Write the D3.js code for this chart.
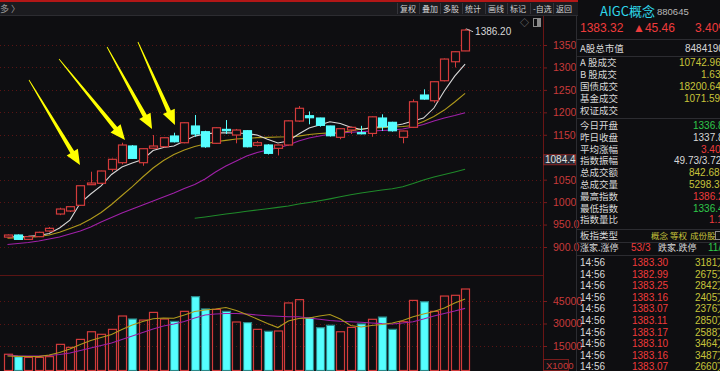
<!DOCTYPE html>
<html><head><meta charset="utf-8">
<script src="https://cdn.jsdelivr.net/npm/d3@7"></script>
<style>
html,body{margin:0;padding:0;background:#0e0e11;overflow:hidden}
svg{display:block;font-family:"Liberation Sans","Noto Sans CJK SC",sans-serif}
</style></head><body>
<svg id="chart" width="720" height="371"></svg>
<script>
// daily candles, oldest -> newest
var opens  = [922,926.7,917,923,935.6,973.5,980.2,992.9,1038.8,1041.9,1073,1087.8,1125,1087.8,1120,1123.4,1147.2,1132.3,1169.5,1156.8,1131,1162,1149.4,1159,1126.5,1127.2,1119.8,1127.2,1180.6,1192.4,1187.3,1169.5,1144.3,1160.6,1154.6,1153,1187.3,1177.7,1144.3,1166.6,1238.5,1225.8,1270.4,1312.7,1336.8];
var closes = [926.7,917,923,932.7,941.6,984.6,989.8,1036.5,1042.5,1069.3,1095.3,1127.2,1097.5,1119,1125,1143.4,1134.5,1176.8,1151.7,1123.4,1165.7,1159,1160.6,1123.4,1132.3,1108.7,1127.2,1181,1209,1188,1171,1147.9,1163.5,1166.6,1152.3,1190,1168,1159,1158.4,1223.6,1229.6,1268.2,1318.7,1335,1383.32];
var highs  = [928,928,924,934,944.5,987.5,991,1037,1067.7,1070,1097,1132.3,1127,1120,1149.4,1144,1154.6,1178,1194,1159,1167,1182.8,1163,1160,1136,1129,1128,1182,1214,1202,1188,1170,1165,1167,1170,1191,1195.6,1179,1159,1228.9,1251.2,1269,1320,1336,1386.2];
var lows   = [920,916,916,922,934,971,978,992,1038,1041,1068,1084,1096,1081,1119,1122,1133,1131,1145.6,1121,1130,1151.7,1131,1122,1124,1106,1104,1126,1179,1173.3,1168,1146,1140,1151.7,1151,1145.6,1158.4,1157,1131,1165,1228,1221.3,1269,1300,1336.4];
var volumes = [9500,7900,7400,7400,7900,16100,14100,19400,24500,22800,26100,35000,33000,32300,37400,33000,31400,38100,47900,39700,39400,38100,31000,30600,26100,24800,25000,43700,45900,33900,27200,28800,24500,27400,29700,32800,34300,26100,31200,45400,44500,38100,48300,48800,53000];

// moving averages as shown on the chart
var ma5  = [922.9,923,924,925.6,930,942.3,960,998,1018,1036,1061.5,1078,1087,1095,1115,1121.6,1125,1136,1147,1151.7,1154.3,1154.6,1154,1152.8,1149.4,1140,1131.6,1136,1151.7,1165,1171.7,1179,1175,1167,1161.7,1166,1168,1169.5,1174,1180.6,1187.3,1209.6,1247.4,1280.8,1307.6];
var ma10 = [919.8,920.5,921.4,923.4,926.7,932.7,941.2,950,962.4,976.8,994.7,1014.7,1034.5,1056,1076,1092.6,1106,1116,1124,1129.4,1134.3,1137.6,1140.5,1142,1143.7,1144.3,1145,1145.7,1147,1150.6,1152.8,1154.3,1155,1158.4,1162.8,1165,1166,1167.3,1168.4,1170.6,1179.5,1190.6,1205,1223,1242.3];
var ma20 = [905.6,907.8,910,913.4,917.8,922.3,929,935.6,944.5,955.7,965.7,975.7,984.6,993.5,1002.4,1011.4,1020.3,1030.3,1039.2,1051.4,1067,1080.4,1091.5,1102.7,1110.5,1116,1120.5,1127.2,1136,1142.8,1147.2,1151.7,1154,1155.5,1156.8,1158.4,1159.5,1160.6,1162.8,1167.3,1172.8,1180.6,1187.3,1192.9,1199.1];
var ma60 = [null,null,null,null,null,null,null,null,null,null,null,null,null,null,null,null,null,null,963.9,966.8,970.2,973.5,976.4,979.5,982.4,985.3,988.2,991.3,995.8,999.3,1003.1,1007.3,1011.8,1016.3,1020.3,1023.6,1027,1029.8,1034.3,1041.4,1049.2,1055.9,1061.5,1067,1073];
var volMa5  = [8300,8100,8000,7900,9000,10700,13000,16000,18700,20700,22700,26000,29000,31300,33200,33700,33500,35700,38000,39000,39700,40700,38700,36000,33000,30000,27300,31700,33300,33700,35000,36000,33000,28700,27700,28700,29300,30300,32000,34500,36300,38000,40300,43700,46300];
var volMa10 = [9000,8500,8300,8300,8700,9300,10300,12000,13700,15300,17000,19300,21700,24000,26300,28300,29700,31300,33700,35700,36300,36700,36700,36300,35700,35200,34800,34500,34500,33700,32800,32000,31500,31200,30800,30300,29900,29700,30300,31200,33000,35000,36700,38300,40100];

var priceTicks = [900,950,1000,1050,1100,1150,1200,1250,1300,1350];
var volTicks = [15000,30000,45000];
var toolButtons = ["复权","叠加","多股","统计","画线","标记","-自选","返回"];

// arrows drawn on the chart: tip at (candle index, price)
var arrows = [{i:6.97,p:1082.6,dx:-51,dy:-85},{i:11.3,p:1138.3,dx:-66,dy:-81},{i:13.9,p:1162.8,dx:-45,dy:-82},{i:16.1,p:1171.7,dx:-37,dy:-83}];

// quote panel
var quoteRows1 = [["A 股成交","10742.96亿","#c8c43a"],["B 股成交","1.63亿","#c8c43a"],["国债成交","18200.64亿","#c8c43a"],["基金成交","1071.59亿","#c8c43a"],["权证成交","",""]];
var quoteRows2 = [["今日开盘","1336.83","#2ec84a"],["昨日收盘","1337.86","#d8d8d8"],["平均涨幅","3.40%","#ee3b3b"],["指数振幅","49.73/3.72%","#d8d8d8"],["总成交额","842.68亿","#c8c43a"],["总成交量","5298.37万","#c8c43a"],["最高指数","1386.20","#ee3b3b"],["最低指数","1336.40","#2ec84a"],["指数量比","1.12","#ee3b3b"]];
var tickTimes = ["14:56","14:56","14:56","14:56","14:56","14:56","14:56","14:56","14:56","14:56"];
var tickPrices = ["1383.30","1382.99","1383.25","1383.16","1383.07","1383.11","1383.17","1383.10","1383.16","1383.07"];
var tickVols = ["3181万","2675万","2842万","2405万","2376万","2850万","2588万","3464万","3487万","2660万"];

var RED = "#d23b3b", CYAN = "#55ffff", GRID = "#5a1414";
var svg = d3.select("#chart");
svg.append("rect").attr("width",720).attr("height",371).attr("fill","#0e0e11");

var n = closes.length;
var x = d3.scaleLinear().domain([0, n-1]).range([7.5, 465.1]);
var y = d3.scaleLinear().domain([900,1350]).range([247,45]);
var yv = d3.scaleLinear().domain([0,45000]).range([368.5,301]);
var bw = 8;
var axisX = 543;

/* header strip */
svg.append("rect").attr("x",0).attr("y",0).attr("width",578).attr("height",2).attr("fill","#b31717");
svg.append("rect").attr("x",0).attr("y",2).attr("width",578).attr("height",13).attr("fill","#1b1b1f");
svg.append("line").attr("x1",0).attr("x2",578).attr("y1",15.5).attr("y2",15.5).attr("stroke","#2c2c31");
svg.append("text").attr("x",0).attr("y",12).attr("fill","#9a9a9a").attr("font-size",9).attr("font-family","Noto Sans CJK SC").text("多 〉");
var btnX = [397,419,440,462,485,507,530,553];
toolButtons.forEach(function(t, k) {
    svg.append("line").attr("x1",btnX[k]+0.5).attr("x2",btnX[k]+0.5).attr("y1",3).attr("y2",14).attr("stroke","#34343a");
    svg.append("text").attr("x",btnX[k] + 3).attr("y",11.5).attr("fill","#d0d0d0").attr("font-size",8)
        .attr("font-family","Noto Sans CJK SC").text(t);
});
svg.append("text").attr("x",520).attr("y",26).attr("fill","#8a8a8a").attr("font-size",9).text("◇");
svg.append("rect").attr("x",533.5).attr("y",18.5).attr("width",7).attr("height",8).attr("fill","none").attr("stroke","#8a8a8a");
svg.append("rect").attr("x",537).attr("y",19).attr("width",3).attr("height",7).attr("fill","#8a8a8a");

/* price gridlines + axis */
var g = svg.append("g");
g.selectAll("line.grid").data(priceTicks).enter().append("line")
    .attr("x1",0).attr("x2",axisX).attr("y1",function(d){return Math.round(y(d))+0.5}).attr("y2",function(d){return Math.round(y(d))+0.5})
    .attr("stroke",GRID).attr("stroke-dasharray","1,3");
var yAxis = d3.axisRight(y).tickValues(priceTicks).tickSize(4).tickPadding(6)
    .tickFormat(function(d){ return d < 1000 ? d3.format(".1f")(d) : d; });
var ag = svg.append("g").attr("transform","translate(" + axisX + ",0)").call(yAxis);
ag.select(".domain").remove();
ag.selectAll("line").attr("stroke","#7a1c1c");
ag.selectAll("text").attr("fill","#c83a3a").attr("font-size",10.5);
svg.append("line").attr("x1",axisX+0.5).attr("x2",axisX+0.5).attr("y1",16).attr("y2",371).attr("stroke","#6a1515");
svg.append("line").attr("x1",576.5).attr("x2",576.5).attr("y1",16).attr("y2",371).attr("stroke","#2c2c31");

/* volume panel grid + axis */
svg.append("line").attr("x1",0).attr("x2",axisX).attr("y1",275.5).attr("y2",275.5).attr("stroke","#5a1414");
g.selectAll("line.vgrid").data(volTicks).enter().append("line")
    .attr("x1",0).attr("x2",axisX).attr("y1",function(d){return Math.round(yv(d))+0.5}).attr("y2",function(d){return Math.round(yv(d))+0.5})
    .attr("stroke",GRID).attr("stroke-dasharray","1,3");
var vAxis = d3.axisRight(yv).tickValues(volTicks).tickSize(4).tickPadding(6);
var vg = svg.append("g").attr("transform","translate(" + axisX + ",0)").call(vAxis);
vg.select(".domain").remove();
vg.selectAll("line").attr("stroke","#7a1c1c");
vg.selectAll("text").attr("fill","#c83a3a").attr("font-size",10.5).text(function(d){return d});
svg.append("rect").attr("x",543.5).attr("y",359.5).attr("width",25).attr("height",11).attr("fill","#111114").attr("stroke","#7a1c1c");
svg.append("text").attr("x",546).attr("y",368.5).attr("fill","#c83a3a").attr("font-size",9.5).text("X1000");

/* MA lines (price) */
function maLine(arr, sc) {
    return d3.line().defined(function(d){return d != null}).x(function(d,i){return x(i)}).y(function(d){return sc(d)})(arr);
}
[[ma60,"#1f8a2a"],[ma20,"#a020a8"],[ma10,"#b09a1c"],[ma5,"#d8d8d8"]].forEach(function(m){
    svg.append("path").attr("d",maLine(m[0],y)).attr("fill","none").attr("stroke",m[1]).attr("stroke-width",1.1);
});

/* candles */
var cg = svg.append("g").selectAll("g").data(closes).enter().append("g");
cg.append("line")
    .attr("x1",function(d,i){return Math.round(x(i))+0.5}).attr("x2",function(d,i){return Math.round(x(i))+0.5})
    .attr("y1",function(d,i){return y(highs[i])}).attr("y2",function(d,i){return y(lows[i])})
    .attr("stroke",function(d,i){return closes[i] >= opens[i] ? RED : CYAN}).attr("stroke-width",1);
cg.append("rect")
    .attr("x",function(d,i){return Math.round(x(i)) - bw/2 + 0.5})
    .attr("y",function(d,i){return y(Math.max(opens[i],closes[i]))})
    .attr("width",bw)
    .attr("height",function(d,i){return Math.max(1, y(Math.min(opens[i],closes[i])) - y(Math.max(opens[i],closes[i])))})
    .attr("fill",function(d,i){return closes[i] >= opens[i] ? "#0e0e11" : CYAN})
    .attr("stroke",function(d,i){return closes[i] >= opens[i] ? RED : CYAN}).attr("stroke-width",1.2);

/* high marker */
var hi = d3.maxIndex(highs);
svg.append("line").attr("x1",x(hi)+1).attr("x2",x(hi)+8).attr("y1",y(highs[hi])).attr("y2",y(highs[hi])+3).attr("stroke","#bbbbbb");
svg.append("text").attr("x",x(hi)+10).attr("y",y(highs[hi])+6).attr("fill","#d8d8d8").attr("font-size",10).text(d3.format(".2f")(highs[hi]));

/* current level box */
var cur = 1084.4;
svg.append("rect").attr("x",543.5).attr("y",y(cur)-9.5).attr("width",32).attr("height",10).attr("fill","#2b2b36").attr("stroke","#8a2424");
svg.append("text").attr("x",545).attr("y",y(cur)-1).attr("fill","#e0e0e0").attr("font-size",10).text(cur);
ag.selectAll(".tick").filter(function(d){return d == 1100}).remove();

/* volume bars */
svg.append("g").selectAll("rect").data(volumes).enter().append("rect")
    .attr("x",function(d,i){return Math.round(x(i)) - bw/2 + 0.5})
    .attr("y",function(d){return yv(d)})
    .attr("width",bw)
    .attr("height",function(d){return yv(0) - yv(d) + 2})
    .attr("fill",function(d,i){return closes[i] >= opens[i] ? "none" : CYAN})
    .attr("stroke",function(d,i){return closes[i] >= opens[i] ? RED : "#2a8a8a"}).attr("stroke-width",1.2);
svg.append("path").attr("d",maLine(volMa10,yv)).attr("fill","none").attr("stroke","#a020a8").attr("stroke-width",1.1);
svg.append("path").attr("d",maLine(volMa5,yv)).attr("fill","none").attr("stroke","#b09a1c").attr("stroke-width",1.1);

/* yellow arrows */
arrows.forEach(function(a){
    var tx = x(a.i), ty = y(a.p), sx = tx + a.dx, sy = ty + a.dy;
    var len = Math.hypot(tx - sx, ty - sy), ux = (tx - sx)/len, uy = (ty - sy)/len, px = -uy, py = ux;
    var hl = 15, hw = 6.5, sw = 2.2;
    var nx = tx - ux*hl, ny = ty - uy*hl;
    var pts = [[sx + px*0.4, sy + py*0.4],[nx + px*sw, ny + py*sw],[nx + px*hw, ny + py*hw],[tx, ty],
               [nx - px*hw, ny - py*hw],[nx - px*sw, ny - py*sw],[sx - px*0.4, sy - py*0.4]];
    svg.append("polygon").attr("points", pts.map(function(p){return p.join(",")}).join(" ")).attr("fill","#ffff00");
});

/* right quote panel */
var rp = svg.append("g").attr("font-family","\"Noto Sans CJK SC\",\"Liberation Sans\",sans-serif");
function txt(xx, yy, s, c, fs, fam) {
    var t = rp.append("text").attr("x",xx).attr("y",yy).attr("fill",c).attr("font-size",fs || 9.5).text(s);
    if (fam) t.attr("font-family",fam);
    return t;
}
var NUM = "Liberation Sans";
function sep(yy) {
    rp.append("line").attr("x1",577).attr("x2",720).attr("y1",yy+0.5).attr("y2",yy+0.5).attr("stroke","#2c2c31");
}
txt(600,16,"AIGC概念","#2fd6ea",13);
txt(657,15,"880645","#b8b8b8",9.5,NUM);
txt(580,32,"1383.32","#ee3b3b",12,NUM);
txt(633,32,"▲45.46","#ee3b3b",12,NUM);
txt(695,32,"3.40%","#ee3b3b",12,NUM);
sep(39);
txt(580,52,"A股总市值","#d8d8d8");
txt(685,52,"8484190亿","#d8d8d8",10,NUM);
sep(56);
quoteRows1.forEach(function(r,k){
    txt(580,66+k*12,r[0],"#d8d8d8");
    if (r[1]) txt(k==1 ? 701 : (k==3 ? 684 : 679),66+k*12,r[1],r[2],10,NUM);
});
sep(118);
quoteRows2.forEach(function(r,k){
    var vx = [693,693,701,674,689,689,693,693,709][k];
    txt(580,129+k*11.8,r[0],"#d8d8d8");
    txt(vx,129+k*11.8,r[1],r[2],10,NUM);
});
sep(229);
txt(580,239,"板指类型","#d8d8d8");
txt(651,239,"概念","#c8c43a",8.5);
txt(670,239,"等权","#c8c43a",8.5);
txt(690,239,"成份股","#c8c43a",8.5);
rp.append("rect").attr("x",715.5).attr("y",231.5).attr("width",6).attr("height",8).attr("fill","none").attr("stroke","#8a8a8a");
sep(242);
txt(580,251,"涨家.涨停","#d8d8d8",9);
txt(631,251,"53/3","#ee3b3b",10,NUM);
txt(658,251,"跌家.跌停","#d8d8d8",9);
txt(708,251,"11/1","#2ec84a",10,NUM);
sep(255);
tickTimes.forEach(function(t,k){
    var yy = 266 + k*11.6;
    txt(580,yy,t,"#d8d8d8",10,NUM);
    txt(632,yy,tickPrices[k],"#ee3b3b",10,NUM);
    txt(695,yy,tickVols[k],"#c8c43a",10,NUM);
});
</script>
</body></html>
